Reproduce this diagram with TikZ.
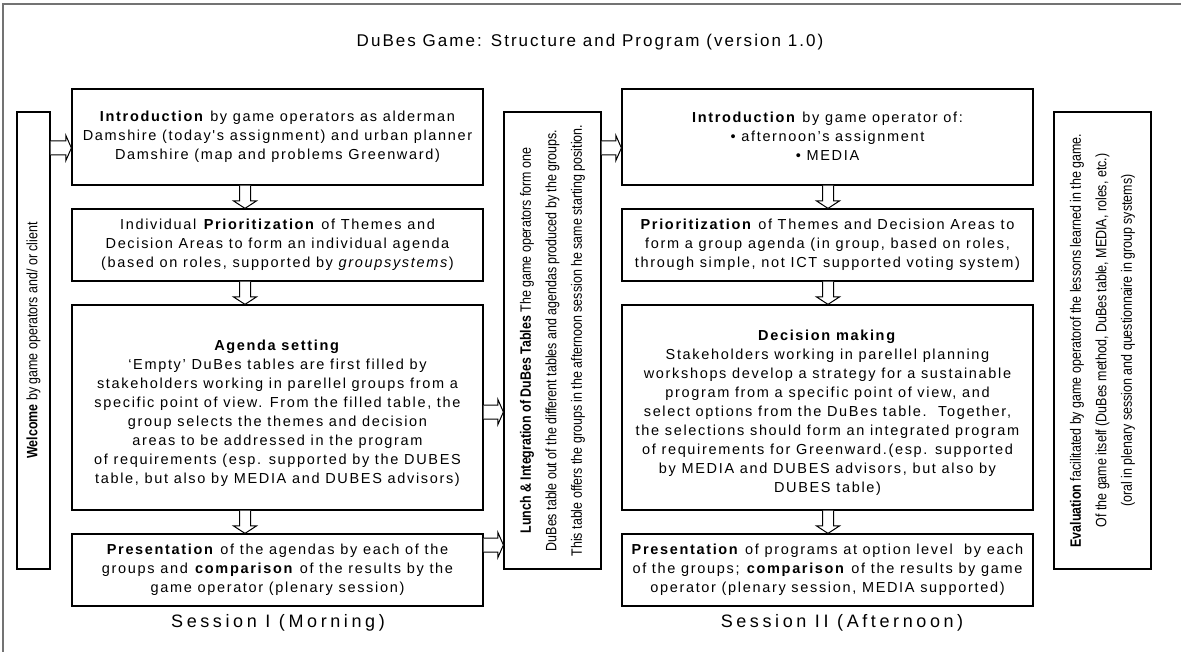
\documentclass[tikz,border=0pt]{standalone}
\usepackage{fontspec}
\setmainfont{Liberation Sans}
\newfontfamily\bodyfont[LetterSpace=11.5]{Liberation Sans}
\newfontfamily\narrowfont[FakeStretch=0.83]{Liberation Sans}
\newfontfamily\headfont[LetterSpace=12]{Liberation Sans}
\newfontfamily\sessfont[LetterSpace=20]{Liberation Sans}
\usetikzlibrary{calc}
\newcommand\vArrow[2]{%
  \draw[barrow] let \p1=(#1), \p2=(#2) in
   (\x1-5.5pt,\y1) -- (\x1-5.5pt,\y2+7.5pt) -- (\x1-11.5pt,\y2+7.5pt) -- (\x1,\y2)
   -- (\x1+11.5pt,\y2+7.5pt) -- (\x1+5.5pt,\y2+7.5pt) -- (\x1+5.5pt,\y1);}
\newcommand\hArrow[2]{%
  \draw[barrow] let \p1=(#1), \p2=(#2) in
   (\x1,\y1+7pt) -- (\x2-5.5pt,\y1+7pt) -- (\x2-5.5pt,\y1+12.5pt) -- (\x2,\y1)
   -- (\x2-5.5pt,\y1-12.5pt) -- (\x2-5.5pt,\y1-7pt) -- (\x1,\y1-7pt);}
\begin{document}
\begin{tikzpicture}[x=1pt,y=-1pt,
  box/.style={draw, line width=1.2pt, inner sep=0pt},
  txt/.style={align=center, inner sep=0pt, font=\bodyfont\fontsize{14.5}{19}\selectfont},
  rtxt/.style={align=center, inner sep=0pt, rotate=90, font=\narrowfont\fontsize{15}{25.5}\selectfont},
  barrow/.style={draw, line width=1pt, fill=white, line join=miter},
  frame/.style={draw=black!55, line width=2pt},
  head/.style={inner sep=0pt, font=\headfont\fontsize{17}{22}\selectfont},
  sess/.style={inner sep=0pt, font=\sessfont\fontsize{18}{22}\selectfont}]
\useasboundingbox (0,0) rectangle (1181,652);
\draw[frame] (3,4) rectangle (1200,670);

\node[head] (title) at (590,42) {DuBes Game: Structure and Program (version 1.0)};

% left column
\node[box, minimum width=411, minimum height=96] (L1) at (277.5,137) {};
\node[box, minimum width=411, minimum height=72] (L2) at (277.5,245) {};
\node[box, minimum width=411, minimum height=205] (L3) at (277.5,407.5) {};
\node[box, minimum width=411, minimum height=72] (L4) at (277.5,570) {};
\node[txt] (L1t) at (L1) {\textbf{Introduction} by game operators as alderman\\Damshire (today's assignment) and urban planner\\Damshire (map and problems Greenward)};
\node[txt] (L2t) at (L2) {Individual \textbf{Prioritization} of Themes and\\Decision Areas to form an individual agenda\\(based on roles, supported by \textit{groupsystems})};
\node[txt] (L3t) at ($(L3)+(0,6)$) {\textbf{Agenda setting}\\‘Empty’ DuBes tables are first filled by\\stakeholders working in parellel groups from a\\specific point of view. From the filled table, the\\group selects the themes and decision\\areas to be addressed in the program\\of requirements (esp. supported by the DUBES\\table, but also by MEDIA and DUBES advisors)};
\node[txt] (L4t) at (L4) {\textbf{Presentation} of the agendas by each of the\\groups and \textbf{comparison} of the results by the\\game operator (plenary session)};
\node[sess] (S1) at (278,623) {Session I (Morning)};

% right column
\node[box, minimum width=411, minimum height=96] (R1) at (827.5,137) {};
\node[box, minimum width=411, minimum height=72] (R2) at (827.5,245) {};
\node[box, minimum width=411, minimum height=205] (R3) at (827.5,407.5) {};
\node[box, minimum width=411, minimum height=72] (R4) at (827.5,570) {};
\node[txt] (R1t) at ($(R1)+(0,-1)$) {\textbf{Introduction} by game operator of:\\• afternoon’s assignment\\• MEDIA};
\node[txt] (R2t) at (R2) {\textbf{Prioritization} of Themes and Decision Areas to\\form a group agenda (in group, based on roles,\\through simple, not ICT supported voting system)};
\node[txt] (R3t) at ($(R3)+(0,5)$) {\textbf{Decision making}\\Stakeholders working in parellel planning\\workshops develop a strategy for a sustainable\\program from a specific point of view, and\\select options from the DuBes table.\ \ Together,\\the selections should form an integrated program\\of requirements for Greenward.(esp. supported\\by MEDIA and DUBES advisors, but also by\\DUBES table)};
\node[txt] (R4t) at (R4) {\textbf{Presentation} of programs at option level\ \ by each\\of the groups; \textbf{comparison} of the results by game\\operator (plenary session, MEDIA supported)};
\node[sess] (S2) at (842,623) {Session II (Afternoon)};

% vertical side boxes
\node[box, minimum width=33, minimum height=457] (W) at (33.5,340.5) {};
\node[rtxt] (Wt) at (W) {\textbf{Welcome} by game operators and/ or client};
\node[box, minimum width=97, minimum height=457] (LU) at (552.5,340.5) {};
\node[rtxt] (LUt) at (LU) {\textbf{Lunch \& Integration of DuBes Tables} The game operators form one\\DuBes table out of the different tables and agendas produced by the groups.\\This table offers the groups in the afternoon session he same starting position.};
\node[box, minimum width=97, minimum height=457] (EV) at (1102.5,340.5) {};
\node[rtxt] (EVt) at (EV) {\textbf{Evaluation} facilitated by game operatorof the lessons learned in the game.\\Of the game itself (DuBes method, DuBes table, MEDIA, roles, etc.)\\(oral in plenary session and questionnaire in group systems)};

% arrows
\coordinate (lx) at (245,0);
\coordinate (rx) at (828,0);
\coordinate (ya) at (0,148);
\coordinate (yb) at (0,412);
\coordinate (yc) at (0,545);
\vArrow{L1.south -| lx}{L2.north -| lx}
\vArrow{L2.south -| lx}{L3.north -| lx}
\vArrow{L3.south -| lx}{L4.north -| lx}
\vArrow{R1.south -| rx}{R2.north -| rx}
\vArrow{R2.south -| rx}{R3.north -| rx}
\vArrow{R3.south -| rx}{R4.north -| rx}
\hArrow{W.east |- ya}{L1.west |- ya}
\hArrow{L3.east |- yb}{LU.west |- yb}
\hArrow{L4.east |- yc}{LU.west |- yc}
\hArrow{LU.east |- ya}{R1.west |- ya}
\end{tikzpicture}
\end{document}
